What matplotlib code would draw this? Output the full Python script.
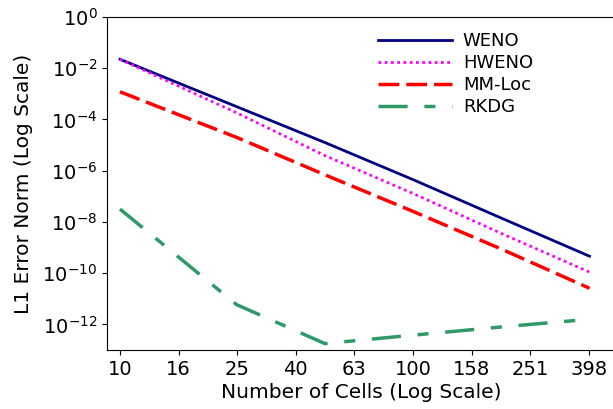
import numpy as np
import matplotlib
matplotlib.use("Agg")
import matplotlib.pyplot as plt
from matplotlib.ticker import NullLocator, FixedLocator, FixedFormatter

# grid sizes and L1 errors (log10) for each scheme
cells = [10, 25, 50, 100, 200, 400]
weno_log = [-1.65, -3.50, -4.90, -6.35, -7.85, -9.34]
hweno_log = [-1.65, -3.74, -5.41, -6.89, -8.45, -9.96]
mmloc_log = [-2.92, -4.70, -6.16, -7.59, -9.06, -10.59]
rkdg_log = [-7.50, -11.23, -12.75, -12.42, -12.10, -11.80]

tick_pos = [10 ** (1 + 0.2 * k) for k in range(9)]
tick_labels = ["10", "16", "25", "40", "63", "100", "158", "251", "398"]

W, H = 613, 409
fig = plt.figure(figsize=(W / 100, H / 100), dpi=100)
left, right, top, bottom = 107, 615, 17, 350
ax = fig.add_axes([left / W, (H - bottom) / H, (right - left) / W, (bottom - top) / H])

x = np.array(cells)
ax.plot(x, 10 ** np.array(weno_log), color="navy", lw=2.0, label="WENO")
ax.plot(x, 10 ** np.array(hweno_log), color="magenta", lw=2.0,
        linestyle=(0, (1, 1.25)), label="HWENO")
ax.plot(x, 10 ** np.array(mmloc_log), color="red", lw=2.5,
        linestyle=(0, (6, 2)), label="MM-Loc")
ax.plot(x, 10 ** np.array(rkdg_log), color="#2f9a68", lw=2.5,
        linestyle=(0, (8.4, 4.8, 3.2, 4.8)), label="RKDG")

ax.set_xscale("log")
ax.set_yscale("log")
px_per_dec = 293.1
ax.set_xlim(10 ** (1 - (120 - left) / px_per_dec), 10 ** (1 + (right - 120) / px_per_dec))
ax.set_ylim(1e-13, 1e0)

ax.xaxis.set_major_locator(FixedLocator(tick_pos))
ax.xaxis.set_major_formatter(FixedFormatter(tick_labels))
ax.xaxis.set_minor_locator(NullLocator())
ax.yaxis.set_major_locator(FixedLocator([10.0 ** e for e in range(-12, 1, 2)]))
ax.yaxis.set_minor_locator(NullLocator())
ax.tick_params(labelsize=14)

ax.set_xlabel("Number of Cells (Log Scale)", fontsize=14.5, labelpad=3)
ax.set_ylabel("L1 Error Norm (Log Scale)", fontsize=14.5, labelpad=7)

ax.legend(loc="upper left", bbox_to_anchor=(378 / W, 1 - 32 / H),
          bbox_transform=fig.transFigure, frameon=False, fontsize=13,
          handlelength=4.1, handletextpad=0.6, labelspacing=0.22,
          borderpad=0, borderaxespad=0)

fig.savefig("out.png", dpi=100)
